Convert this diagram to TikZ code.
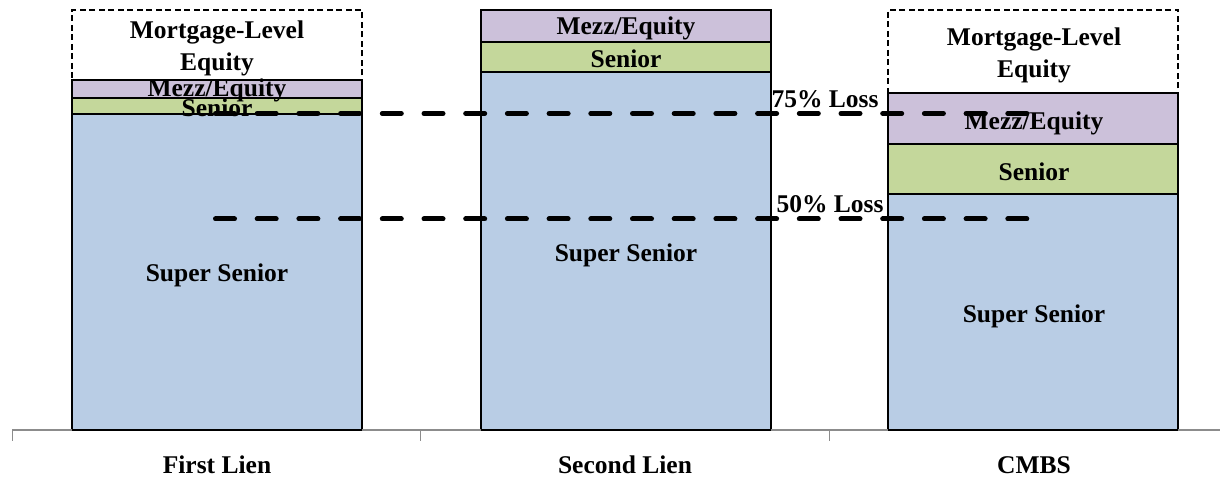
\documentclass[tikz,border=0pt]{standalone}
\usepackage{fontspec}
\setmainfont{Liberation Serif}
\definecolor{ssblue}{HTML}{B9CDE5}
\definecolor{sgreen}{HTML}{C4D79B}
\definecolor{mpurple}{HTML}{CCC1DA}
\definecolor{axisgray}{HTML}{8C8C8C}
\begin{document}
\begin{tikzpicture}[x=1pt,y=-1pt,
  band/.style={draw=black, line width=1.2pt, minimum width=290pt, inner sep=0pt, outer sep=0pt, anchor=north west},
  eqbox/.style={draw=black, line width=1.2pt, dash pattern=on 6pt off 3.5pt, minimum width=290pt, inner sep=0pt, outer sep=0pt, anchor=north west},
  lbl/.style={font=\bfseries\fontsize{25.5}{32}\selectfont, align=center, inner sep=0pt},
  loss/.style={draw=black, line width=5pt, line cap=round, dash pattern=on 19pt off 22.7pt},
  axisline/.style={draw=axisgray, line width=2.5pt},
  tick/.style={draw=axisgray, line width=1pt}]
\useasboundingbox (0,0) rectangle (1220,478);
% First Lien
\node[eqbox, minimum height=70pt] (fe) at (72,10) {};
\node[band, fill=mpurple, minimum height=18pt] (fm) at (72,80) {};
\node[band, fill=sgreen, minimum height=16pt] (fs) at (72,98) {};
\node[band, fill=ssblue, minimum height=316pt] (fss) at (72,114) {};
% Second Lien
\node[band, fill=mpurple, minimum height=32pt] (sm) at (481,10) {};
\node[band, fill=sgreen, minimum height=30pt] (ss) at (481,42) {};
\node[band, fill=ssblue, minimum height=358pt] (sss) at (481,72) {};
% CMBS
\node[eqbox, minimum height=83pt] (ce) at (888,10) {};
\node[band, fill=mpurple, minimum height=51pt] (cm) at (888,93) {};
\node[band, fill=sgreen, minimum height=50pt] (cs) at (888,144) {};
\node[band, fill=ssblue, minimum height=236pt] (css) at (888,194) {};
% axis
\coordinate (axL) at (12,430);
\coordinate (axR) at (1220,430);
\draw[axisline] (axL) -- (axR);
\coordinate (t1a) at (12,430); \coordinate (t1b) at (12,441);
\coordinate (t2a) at (420,430); \coordinate (t2b) at (420,441);
\coordinate (t3a) at (829,430); \coordinate (t3b) at (829,441);
\draw[tick] (t1a) -- (t1b);
\draw[tick] (t2a) -- (t2b);
\draw[tick] (t3a) -- (t3b);
\draw[black, line width=1.5pt] (fss.south west) -- (fss.south east);
\draw[black, line width=1.5pt] (sss.south west) -- (sss.south east);
\draw[black, line width=1.5pt] (css.south west) -- (css.south east);
% loss lines
\coordinate (l75a) at (215.5,113.5); \coordinate (l75b) at (1027,113.5);
\coordinate (l50a) at (215.5,219); \coordinate (l50b) at (1027,219);
\draw[loss] (l75a) -- (l75b);
\draw[loss] (l50a) -- (l50b);
% labels
\node[lbl] (tfe) at (217,48) {Mortgage-Level\\Equity};
\node[lbl] (tfm) at (217,90) {Mezz/Equity};
\node[lbl] (tfs) at (217,108) {Senior};
\node[lbl] (tfss) at (217,275) {Super Senior};
\node[lbl] (tsm) at (626,28) {Mezz/Equity};
\node[lbl] (tss) at (626,59) {Senior};
\node[lbl] (tsss) at (626,255) {Super Senior};
\node[lbl] (tce) at (1034,55) {Mortgage-Level\\Equity};
\node[lbl] (tcm) at (1034,123) {Mezz/Equity};
\node[lbl] (tcs) at (1034,172) {Senior};
\node[lbl] (tcss) at (1034,316) {Super Senior};
\node[lbl] (t75) at (825,99) {75\% Loss};
\node[lbl] (t50) at (830,204) {50\% Loss};
\node[lbl] (x1) at (217,465) {First Lien};
\node[lbl] (x2) at (625,465) {Second Lien};
\node[lbl] (x3) at (1034,465) {CMBS};
\end{tikzpicture}
\end{document}
